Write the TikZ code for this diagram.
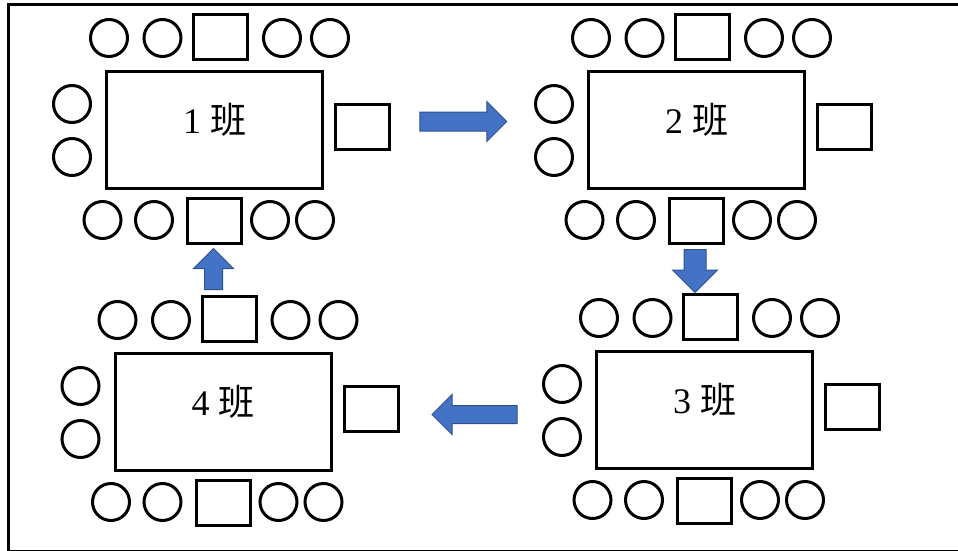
\documentclass[tikz,border=0pt]{standalone}
\usepackage{fontspec}
\setmainfont{Liberation Serif}
\newfontfamily\cjk{Noto Sans CJK JP}
\usetikzlibrary{shapes.arrows}
\definecolor{arrowblue}{HTML}{4472C4}
\definecolor{arrowedge}{HTML}{2F528F}
\begin{document}
\begin{tikzpicture}[x=1pt,y=-1pt,
    tablebox/.style={draw,line width=3pt,minimum width=216pt,minimum height=117pt,inner sep=0pt},
    seat/.style={draw,circle,line width=3pt,minimum size=37pt,inner sep=0pt},
    desk/.style={draw,line width=3pt,minimum width=54pt,minimum height=45pt,inner sep=0pt},
    classname/.style={font=\fontsize{36}{40}\selectfont,inner sep=0pt},
    flowarrow/.style={single arrow,fill=arrowblue,draw=arrowedge,line width=1pt,inner sep=9pt,single arrow head extend=10.5pt}]
  \useasboundingbox (0,0) rectangle (958,551);
  \clip (0,0) rectangle (958,551);
  \draw[line width=3pt] (8,4.5) rectangle (1000,551.5);
  \foreach \g/\gx/\gy in {1/0/0,2/482/0,3/490/280,4/8.5/282}{
    \begin{scope}[shift={(\gx,\gy)}]
      \node[tablebox] (t\g) at (214.5,130) {};
      \node[classname] (n\g) at (214.5,120) {\g~{\cjk 班}};
      % top row
      \node[seat] (u\g-1) at (109,38) {};
      \node[seat] (u\g-2) at (162.5,38) {};
      \node[desk] (u\g-3) at (220.5,37) {};
      \node[seat] (u\g-4) at (282,38) {};
      \node[seat] (u\g-5) at (330,38) {};
      % sides
      \node[seat] (l\g-1) at (72,104) {};
      \node[seat] (l\g-2) at (72,157) {};
      \node[desk] (r\g) at (362.5,127) {};
      % bottom row
      \node[seat] (d\g-1) at (102.5,220) {};
      \node[seat] (d\g-2) at (154,220) {};
      \node[desk] (d\g-3) at (214.5,220.5) {};
      \node[seat] (d\g-4) at (270,220) {};
      \node[seat] (d\g-5) at (315,220) {};
    \end{scope}
  }
  \node[flowarrow,minimum height=87pt,minimum width=39pt] (a12) at (458.5,121.5) {};
  \node[flowarrow,shape border rotate=270,inner sep=10.5pt,minimum height=43pt,minimum width=44pt,single arrow head extend=11.5pt] (a23) at (695,265.5) {};
  \node[flowarrow,shape border rotate=180,inner sep=8.5pt,minimum height=85pt,minimum width=39pt,single arrow head extend=11pt] (a34) at (479,414.5) {};
  \node[flowarrow,shape border rotate=90,inner sep=8.5pt,minimum height=41pt,minimum width=39pt,single arrow head extend=11pt] (a41) at (213.5,273.5) {};
\end{tikzpicture}
\end{document}
